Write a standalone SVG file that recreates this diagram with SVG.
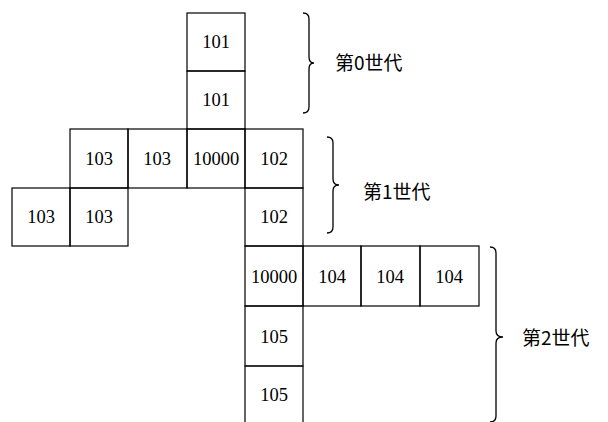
<svg xmlns="http://www.w3.org/2000/svg" width="608" height="422" viewBox="0 0 608 422">
<style>
.c{fill:none;stroke:#000;stroke-width:1.2}
.n{font-family:"Liberation Serif",serif;font-size:18.5px;text-anchor:middle;fill:#000}
.b{fill:none;stroke:#000;stroke-width:1.3}
.l{font-family:"Noto Sans CJK SC","Noto Sans CJK JP",sans-serif;font-size:19px;fill:#000}
</style>
<rect width="608" height="422" fill="#fff"/>
<g id="gen0">
<g id="n101a"><rect class="c" x="187" y="13" width="58" height="58"/><text class="n" x="216" y="48">101</text></g>
<g id="n101b"><rect class="c" x="187" y="71" width="58" height="58"/><text class="n" x="216" y="106">101</text></g>
</g>
<g id="gen1">
<g id="n103a"><rect class="c" x="70" y="129" width="58" height="59"/><text class="n" x="99" y="165">103</text></g>
<g id="n103b"><rect class="c" x="128" y="129" width="59" height="59"/><text class="n" x="157" y="165">103</text></g>
<g id="n10000a"><rect class="c" x="187" y="129" width="58" height="59"/><text class="n" x="216" y="165">10000</text></g>
<g id="n102a"><rect class="c" x="245" y="129" width="58" height="59"/><text class="n" x="274" y="165">102</text></g>
<g id="n102b"><rect class="c" x="245" y="188" width="58" height="58"/><text class="n" x="274" y="223">102</text></g>
<g id="n103c"><rect class="c" x="12" y="188" width="58" height="58"/><text class="n" x="41" y="223">103</text></g>
<g id="n103d"><rect class="c" x="70" y="188" width="58" height="58"/><text class="n" x="99" y="223">103</text></g>
</g>
<g id="gen2">
<g id="n10000b"><rect class="c" x="245" y="246" width="58" height="60"/><text class="n" x="274" y="283">10000</text></g>
<g id="n104a"><rect class="c" x="303" y="246" width="58" height="60"/><text class="n" x="332" y="283">104</text></g>
<g id="n104b"><rect class="c" x="361" y="246" width="59" height="60"/><text class="n" x="390" y="283">104</text></g>
<g id="n104c"><rect class="c" x="420" y="246" width="59" height="60"/><text class="n" x="449" y="283">104</text></g>
<g id="n105a"><rect class="c" x="245" y="306" width="58" height="60"/><text class="n" x="274" y="343">105</text></g>
<g id="n105b"><path class="c" d="M245 423 V366 H303 V423"/><text class="n" x="274" y="401">105</text></g>
</g>
<g id="braces">
<path class="b" d="M303 13 Q309 13 309 19 L309 57 Q309 63 314 63 Q309 63 309 69 L309 107 Q309 113 303 113"/>
<path class="b" d="M327 137 Q333 137 333 143 L333 179 Q333 185 339 185 Q333 185 333 191 L333 227 Q333 233 327 233"/>
<path class="b" d="M490 247 Q496 247 496 253 L496 331 Q496 337 503 337 Q496 337 496 343 L496 416 Q496 422 490 422"/>
<text class="l" x="335" y="70">第0世代</text>
<text class="l" x="363" y="199">第1世代</text>
<text class="l" x="522" y="345">第2世代</text>
</g>
</svg>
